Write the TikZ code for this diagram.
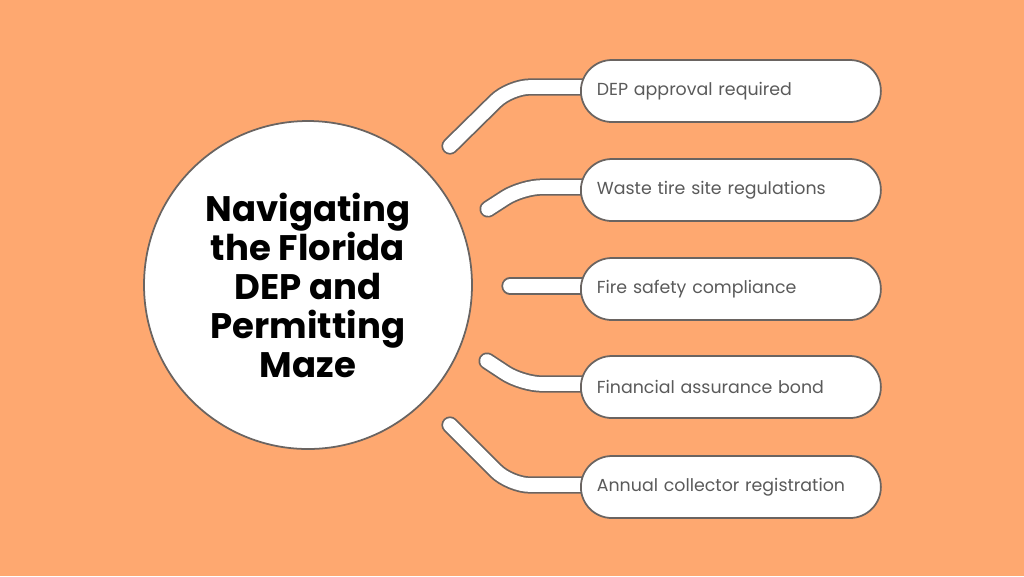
\documentclass[tikz,border=0pt]{standalone}
\usepackage{fontspec}
\setmainfont{Poppins}
\definecolor{bg}{HTML}{FEA870}
\definecolor{edge}{HTML}{6A6461}
\definecolor{txt}{HTML}{5A5A5A}
\begin{document}
\begin{tikzpicture}[x=0.1mm,y=-0.1mm,
  pill/.style={draw=edge, line width=0.5pt, fill=white, rounded corners=3.1mm, minimum width=30mm, minimum height=6.2mm, anchor=west, text=txt, font=\fontsize{4.95pt}{6pt}\selectfont, text width=26.8mm, align=left, inner sep=0pt},
  linkout/.style={draw=edge, line width=4.9pt, line cap=round, rounded corners=2mm},
  linkin/.style={draw=white, line width=3.9pt, line cap=round, rounded corners=2mm}]
\fill[bg] (0,0) rectangle (1024,576);
\useasboundingbox (0,0) rectangle (1024,576);
% circle
\node[circle, draw=edge, line width=0.5pt, fill=white, minimum size=32.8mm, inner sep=0pt] (hub) at (308,285) {};
\node[font=\fontsize{10.1pt}{11.1pt}\selectfont\bfseries, align=center] (title) at (308,285) {Navigating\\the Florida\\DEP and\\Permitting\\Maze};
% connector endpoints
\coordinate (s1) at (450,146);
\coordinate (s2) at (488,209);
\coordinate (s3) at (510,286);
\coordinate (s4) at (487,361);
\coordinate (s5) at (450,425);
\coordinate (b1) at (510,87);
\coordinate (b2) at (522,187);
\coordinate (b4) at (522,384);
\coordinate (b5) at (510,485);
\coordinate (e1) at (590,87);
\coordinate (e2) at (590,187);
\coordinate (e3) at (590,286);
\coordinate (e4) at (590,384);
\coordinate (e5) at (590,485);
\foreach \st in {linkout,linkin}{
  \draw[\st] (s1) -- (b1) -- (e1);
  \draw[\st] (s2) -- (b2) -- (e2);
  \draw[\st] (s3) -- (e3);
  \draw[\st] (s4) -- (b4) -- (e4);
  \draw[\st] (s5) -- (b5) -- (e5);
}
\node[pill] (p1) at (580,91) {DEP approval required};
\node[pill] (p2) at (580,190) {Waste tire site regulations};
\node[pill] (p3) at (580,289) {Fire safety compliance};
\node[pill] (p4) at (580,387) {Financial assurance bond};
\node[pill] (p5) at (580,487) {Annual collector registration};
\end{tikzpicture}
\end{document}
